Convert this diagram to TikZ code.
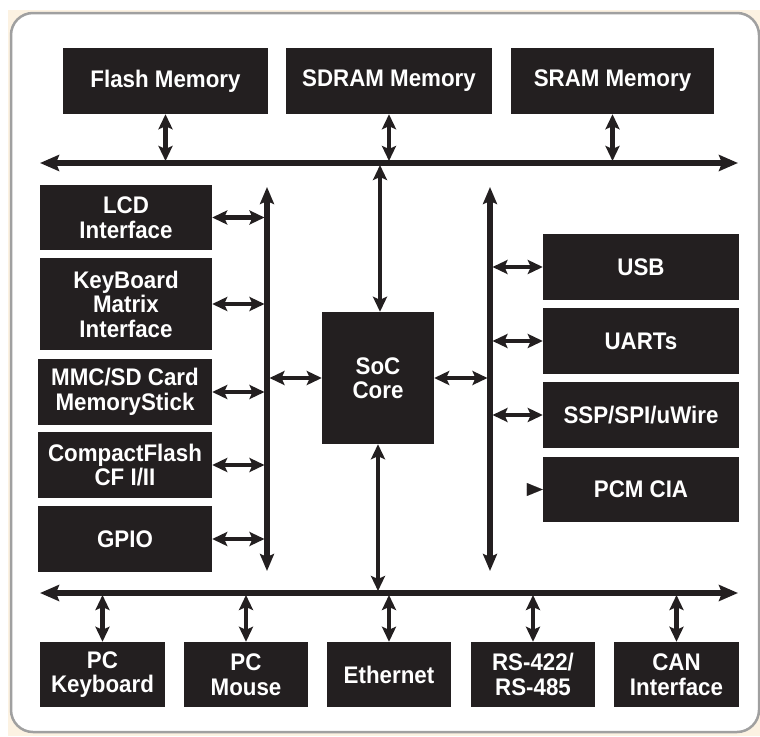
\documentclass[tikz,border=0pt]{standalone}
\usepackage{fontspec}
\newfontfamily\lab{Liberation Sans}[UprightFont=* Bold, FakeStretch=0.93]
\usetikzlibrary{arrows.meta}
\definecolor{ink}{HTML}{231F20}
\definecolor{cream}{HTML}{FCF2E2}
\definecolor{framegray}{HTML}{A0A0A0}
\tikzset{
  blk/.style={fill=ink, draw=none, inner sep=0pt, text=white, align=center,
              font=\lab\fontsize{24}{24.5}\selectfont},
  bus/.style={draw=ink, line width=5.5pt,
              {Stealth[length=19pt,width=16pt,inset=3pt]}-{Stealth[length=19pt,width=16pt,inset=3pt]}},
  vbus/.style={draw=ink, line width=5.5pt,
              {Stealth[length=17pt,width=14pt,inset=3pt]}-{Stealth[length=17pt,width=14pt,inset=3pt]}},
  dbl/.style={draw=ink, line width=4.5pt,
              {Stealth[length=15pt,width=14pt,inset=3pt]}-{Stealth[length=15pt,width=14pt,inset=3pt]}},
}
\begin{document}
\begin{tikzpicture}[x=1pt,y=-1pt]
\useasboundingbox (0,0) rectangle (760,736);
% background
\fill[white] (0,0) rectangle (760,736);
\fill[cream] (8,10) rectangle (760,736);
\draw[framegray, line width=2.5pt, fill=white, rounded corners=22pt] (11,13) rectangle (759,732);

% top memories
\node[blk, minimum width=205pt, minimum height=66pt] (flash) at (165.5,81) {Flash Memory};
\node[blk, minimum width=206pt, minimum height=66pt] (sdram) at (389,81) {SDRAM Memory};
\node[blk, minimum width=203pt, minimum height=66pt] (sram) at (612.5,81) {SRAM Memory};

% left peripherals
\node[blk, minimum width=172pt, minimum height=65pt] (lcd) at (126,217.5) {LCD\\Interface};
\node[blk, minimum width=172pt, minimum height=92pt] (kbd) at (126,304) {KeyBoard\\Matrix\\Interface};
\node[blk, minimum width=174pt, minimum height=66pt] (mmc) at (125,392) {MMC/SD Card\\MemoryStick};
\node[blk, minimum width=174pt, minimum height=66pt] (cf) at (125,465) {CompactFlash\\CF I/II};
\node[blk, minimum width=174pt, minimum height=66pt] (gpio) at (125,539) {GPIO};

% core
\node[blk, minimum width=112pt, minimum height=132pt] (soc) at (378,378) {SoC\\Core};

% right peripherals
\node[blk, minimum width=196pt, minimum height=66pt] (usb) at (641,267) {USB};
\node[blk, minimum width=196pt, minimum height=66pt] (uarts) at (641,341) {UARTs};
\node[blk, minimum width=196pt, minimum height=66pt] (ssp) at (641,415) {SSP/SPI/uWire};
\node[blk, minimum width=196pt, minimum height=65pt] (pcm) at (641,489.5) {PCM CIA};

% bottom peripherals
\node[blk, minimum width=125pt, minimum height=65pt] (pck) at (102.5,674.5) {PC\\Keyboard};
\node[blk, minimum width=124pt, minimum height=65pt] (pcmouse) at (246,674.5) {PC\\Mouse};
\node[blk, minimum width=124pt, minimum height=65pt] (eth) at (389,674.5) {Ethernet};
\node[blk, minimum width=124pt, minimum height=65pt] (rs) at (533,674.5) {RS-422/\\RS-485};
\node[blk, minimum width=125pt, minimum height=65pt] (can) at (676.5,674.5) {CAN\\Interface};

% bus end points
\coordinate (tbL) at (40,163);
\coordinate (tbR) at (738,163);
\coordinate (bbL) at (40,593);
\coordinate (bbR) at (738,593);
\coordinate (lbT) at (267,187);
\coordinate (lbB) at (267,571);
\coordinate (rbT) at (490,187);
\coordinate (rbB) at (490,571);
\coordinate (pcmin) at ([xshift=-16pt]pcm.west);

% buses
\draw[bus] (tbL) -- (tbR);
\draw[bus] (bbL) -- (bbR);
\draw[vbus] (lbT) -- (lbB);
\draw[vbus] (rbT) -- (rbB);

% memories to top bus
\draw[dbl, shorten >=2pt] (flash.south) -- (flash.south |- tbL);
\draw[dbl, shorten >=2pt] (sdram.south) -- (sdram.south |- tbL);
\draw[dbl, shorten >=2pt] (sram.south) -- (sram.south |- tbL);

% core connections
\draw[dbl, shorten <=2pt] ([xshift=2pt]soc.north |- tbL) -- ([xshift=2pt]soc.north);
\draw[dbl, shorten >=2pt] (soc.south) -- (soc.south |- bbL);
\draw[dbl, shorten >=2.5pt] (soc.west) -- (soc.west -| lbT);
\draw[dbl, shorten >=2.5pt] (soc.east) -- (soc.east -| rbT);

% left peripherals to left bus
\draw[dbl, shorten >=2.5pt] (lcd.east) -- (lcd.east -| lbT);
\draw[dbl, shorten >=2.5pt] (kbd.east) -- (kbd.east -| lbT);
\draw[dbl, shorten >=2.5pt] (mmc.east) -- (mmc.east -| lbT);
\draw[dbl, shorten >=2.5pt] (cf.east) -- (cf.east -| lbT);
\draw[dbl, shorten >=2.5pt] (gpio.east) -- (gpio.east -| lbT);

% right bus to right peripherals
\draw[dbl, shorten <=2.5pt] (usb.west -| rbT) -- (usb.west);
\draw[dbl, shorten <=2.5pt] (uarts.west -| rbT) -- (uarts.west);
\draw[dbl, shorten <=2.5pt] (ssp.west -| rbT) -- (ssp.west);
\draw[draw=ink, fill=ink, line width=0.1pt, -{Triangle[length=16pt,width=13pt]}] (pcmin) -- (pcm.west);

% bottom bus to bottom peripherals
\draw[dbl, shorten <=2pt] (pck.north |- bbL) -- (pck.north);
\draw[dbl, shorten <=2pt] (pcmouse.north |- bbL) -- (pcmouse.north);
\draw[dbl, shorten <=2pt] (eth.north |- bbL) -- (eth.north);
\draw[dbl, shorten <=2pt] (rs.north |- bbL) -- (rs.north);
\draw[dbl, shorten <=2pt] (can.north |- bbL) -- (can.north);
\end{tikzpicture}
\end{document}
